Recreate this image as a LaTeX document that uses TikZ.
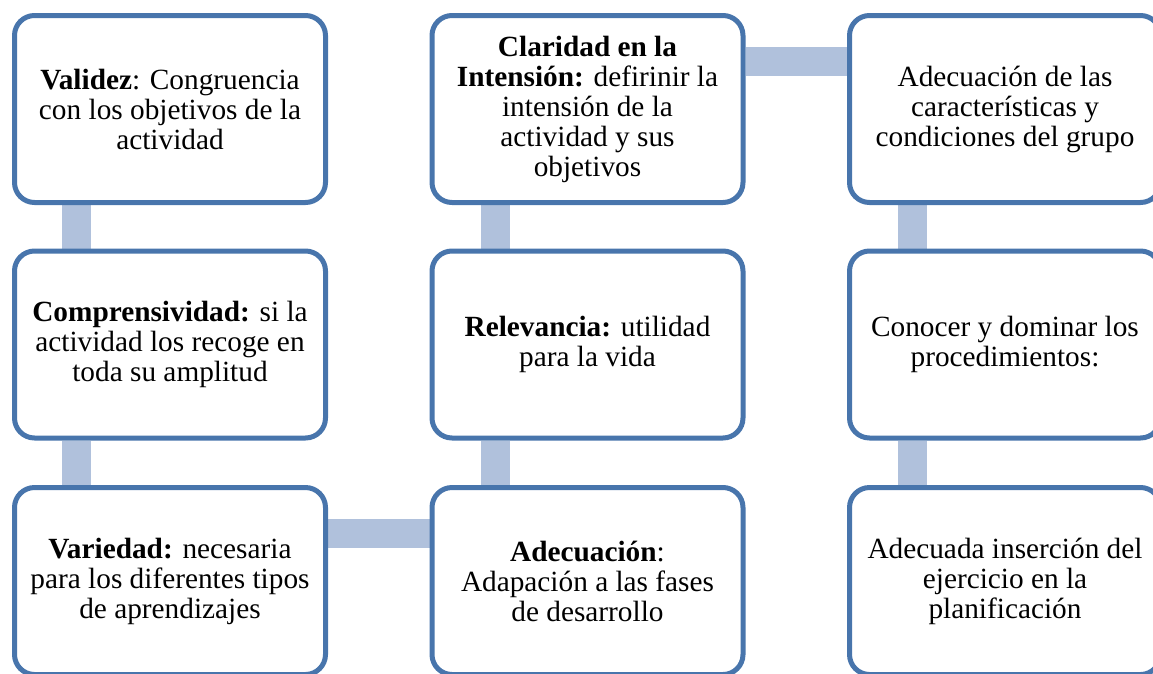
\documentclass[tikz,border=0pt]{standalone}
\usepackage{fontspec}
\setmainfont{Liberation Serif}
\usetikzlibrary{backgrounds}
\definecolor{boxblue}{RGB}{72,117,172}
\definecolor{connblue}{RGB}{176,193,220}
\tikzset{
  stepbox/.style={draw=boxblue, line width=5pt, rounded corners=20pt, fill=white,
    minimum width=311pt, minimum height=187pt, align=center, inner sep=0pt,
    font=\fontsize{29.3}{30}\selectfont},
  conn/.style={draw=connblue, line width=29pt}
}
\begin{document}
\begin{tikzpicture}[x=1pt,y=-1pt]
\useasboundingbox (0,0) rectangle (1153,673);
\node[stepbox] (val) at (170,109) {\textbf{Validez}: Congruencia\\con los objetivos de la\\actividad};
\node[stepbox] (com) at (170,344.5) {\textbf{Comprensividad:} si la\\actividad los recoge en\\toda su amplitud};
\node[stepbox] (var) at (170,581) {\textbf{Variedad:} necesaria\\para los diferentes tipos\\de aprendizajes};
\node[stepbox] (cla) at (587.5,109) {\textbf{Claridad en la}\\\textbf{Intensión:} defirinir la\\intensión de la\\actividad y sus\\objetivos};
\node[stepbox] (rel) at (587.5,344.5) {\textbf{Relevancia:} utilidad\\para la vida};
\node[stepbox] (ade) at (587.5,581) {\textbf{Adecuación}:\\Adapación a las fases\\de desarrollo};
\node[stepbox] (grp) at (1005,109) {Adecuación de las\\características y\\condiciones del grupo};
\node[stepbox] (pro) at (1005,344.5) {Conocer y dominar los\\procedimientos:};
\node[stepbox] (ins) at (1005,581) {Adecuada inserción del\\ejercicio en la\\planificación};
\begin{pgfonlayer}{background}
\draw[conn] ([xshift=64.5pt]val.south west) -- ([xshift=64.5pt]com.north west);
\draw[conn] ([xshift=64.5pt]com.south west) -- ([xshift=64.5pt]var.north west);
\draw[conn] ([yshift=-48.5pt]var.north east) -- ([yshift=-48.5pt]ade.north west);
\draw[conn] ([xshift=65.5pt]ade.north west) -- ([xshift=65.5pt]rel.south west);
\draw[conn] ([xshift=65.5pt]rel.north west) -- ([xshift=65.5pt]cla.south west);
\draw[conn] ([yshift=-48.5pt]cla.north east) -- ([yshift=-48.5pt]grp.north west);
\draw[conn] ([xshift=65.5pt]grp.south west) -- ([xshift=65.5pt]pro.north west);
\draw[conn] ([xshift=65.5pt]pro.south west) -- ([xshift=65.5pt]ins.north west);
\end{pgfonlayer}
\end{tikzpicture}
\end{document}
